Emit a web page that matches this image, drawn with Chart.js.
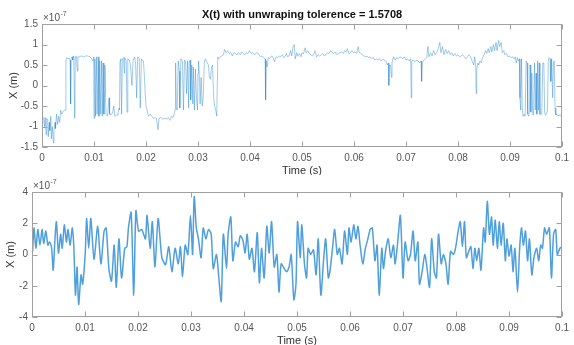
<!DOCTYPE html>
<html>
<head>
<meta charset="utf-8">
<script src="https://cdn.jsdelivr.net/npm/chart.js@4.4.1/dist/chart.umd.min.js"></script>
<style>
  html, body { margin: 0; padding: 0; background: #fff; }
  #wrap { position: relative; width: 574px; height: 345px; overflow: hidden; }
  .pane { position: absolute; left: 0; width: 574px; }
</style>
</head>
<body>
<div id="wrap">
  <div class="pane" style="top:0;height:175px"><canvas id="topChart"></canvas></div>
  <div class="pane" style="top:175px;height:170px"><canvas id="bottomChart"></canvas></div>
</div>
<script>
// === Data (time in ms, displacement in units of 1e-7 m) ===

const xTicks = [0, 0.01, 0.02, 0.03, 0.04, 0.05, 0.06, 0.07, 0.08, 0.09, 0.1];
const yTicksTop = [-1.5, -1, -0.5, 0, 0.5, 1, 1.5];
const yTicksBottom = [-4, -2, 0, 2, 4];

// top panel: unwrapped signal
const tTop = [
  0, 0.1, 0.3, 0.5, 0.6, 0.8, 0.9, 1.1, 1.2, 1.4,
  1.5, 1.7, 1.8, 2.0, 2.2, 2.3, 2.5, 2.6, 2.8, 3.0,
  3.2, 3.4, 3.6, 3.8, 4.0, 4.3, 4.5, 4.6, 4.8, 5.0,
  5.2, 5.4, 5.5, 5.6, 5.8, 5.9, 6.1, 6.3, 6.4, 6.6,
  6.8, 6.9, 7.2, 7.6, 8.0, 8.4, 8.8, 9.2, 9.5, 9.8,
  9.95, 10.0, 10.15, 10.3, 10.45, 10.6, 10.8, 10.95, 11.1, 11.3,
  11.45, 11.6, 11.75, 11.9, 12.0, 12.1, 12.3, 12.6, 12.9, 13.0,
  13.3, 13.6, 13.8, 14.0, 14.3, 14.6, 14.8, 14.9, 15.0, 15.15,
  15.3, 15.45, 15.7, 15.8, 15.9, 16.2, 16.35, 16.5, 16.8, 17.0,
  17.3, 17.5, 17.8, 18.0, 18.2, 18.4, 18.7, 18.9, 19.1, 19.3,
  19.5, 19.7, 19.85, 20.0, 20.2, 20.5, 20.8, 21.1, 21.4, 21.7,
  22.0, 22.3, 22.5, 22.8, 23.2, 23.6, 24.0, 24.3, 24.6, 24.9,
  25.2, 25.5, 25.6, 25.7, 25.8, 26.0, 26.2, 26.4, 26.5, 26.7,
  27.0, 27.2, 27.4, 27.6, 27.8, 28.0, 28.2, 28.3, 28.5, 28.6,
  28.8, 29.0, 29.1, 29.3, 29.5, 29.7, 29.9, 30.0, 30.1, 30.3,
  30.4, 30.6, 30.8, 31.0, 31.2, 31.4, 31.6, 31.8, 32.0, 32.2,
  32.4, 32.6, 32.8, 33.0, 33.2, 33.4, 33.6, 33.8, 34.0, 34.3,
  34.6, 34.9, 35.1, 35.4, 35.7, 36.0, 36.3, 36.6, 36.9, 37.2,
  37.5, 37.8, 38.1, 38.4, 38.7, 39.0, 39.3, 39.6, 39.9, 40.2,
  40.5, 40.8, 41.1, 41.4, 41.7, 42.0, 42.3, 42.6, 42.9, 43.0,
  43.1, 43.3, 43.5, 43.8, 44.1, 44.4, 44.7, 45.0, 45.3, 45.6,
  45.9, 46.2, 46.5, 46.8, 47.0, 47.2, 47.5, 47.8, 48.0, 48.3,
  48.5, 48.7, 49.0, 49.2, 49.5, 49.8, 50.0, 50.3, 50.6, 50.8,
  51.1, 51.4, 51.7, 52.0, 52.3, 52.5, 52.8, 53.1, 53.4, 53.7,
  54.0, 54.3, 54.6, 54.9, 55.2, 55.5, 55.8, 56.1, 56.4, 56.7,
  57.0, 57.3, 57.6, 57.9, 58.2, 58.5, 58.7, 59.0, 59.3, 59.6,
  59.9, 60.2, 60.5, 60.8, 61.0, 61.3, 61.6, 61.9, 62.2, 62.5,
  62.8, 63.1, 63.4, 63.7, 64.0, 64.3, 64.6, 64.9, 65.2, 65.5,
  65.8, 66.1, 66.4, 66.6, 66.7, 66.8, 67.0, 67.2, 67.3, 67.6,
  67.9, 68.2, 68.5, 68.8, 69.1, 69.4, 69.7, 70.0, 70.3, 70.6,
  70.9, 71.0, 71.1, 71.4, 71.7, 72.0, 72.3, 72.6, 72.9, 73.0,
  73.1, 73.4, 73.7, 74.0, 74.2, 74.4, 74.7, 75.0, 75.3, 75.6,
  75.9, 76.2, 76.5, 76.7, 77.0, 77.3, 77.6, 77.9, 78.2, 78.5,
  78.8, 79.1, 79.4, 79.7, 80.0, 80.3, 80.6, 80.9, 81.2, 81.5,
  81.8, 82.1, 82.4, 82.7, 83.0, 83.2, 83.4, 83.5, 83.6, 83.8,
  84.0, 84.2, 84.5, 84.7, 85.0, 85.3, 85.5, 85.8, 86.0, 86.3,
  86.5, 86.8, 87.0, 87.3, 87.5, 87.8, 88.0, 88.3, 88.5, 88.8,
  89.0, 89.3, 89.6, 89.9, 90.2, 90.5, 90.8, 91.0, 91.2, 91.4,
  91.6, 91.8, 91.9, 92.05, 92.2, 92.35, 92.5, 92.7, 92.9, 93.1,
  93.3, 93.4, 93.6, 93.75, 93.85, 94.0, 94.2, 94.35, 94.5, 94.7,
  94.85, 95.0, 95.15, 95.3, 95.45, 95.6, 95.75, 95.9, 96.1, 96.3,
  96.5, 96.65, 96.8, 97.0, 97.2, 97.35, 97.5, 97.7, 97.85, 98.0,
  98.2, 98.35, 98.5, 98.65, 98.8, 99.0, 99.2, 99.4, 99.6, 99.8,
  100
];
const xTop = [
  -0.5, -0.75, -0.8, -1.0, -0.78, -1.2, -0.8, -0.85, -1.25, -0.9,
  -1.1, -0.75, -1.3, -1.0, -1.4, -1.1, -0.9, -1.05, -0.7, -0.95,
  -0.75, -0.9, -0.6, -0.7, -0.65, -0.6, -0.6, 0.62, 0.68, 0.65,
  0.67, 0.62, -0.45, 0.65, 0.7, 0.62, 0.72, -0.8, 0.7, 0.72,
  0.35, 0.7, 0.7, 0.72, 0.7, 0.72, 0.72, 0.7, 0.66, 0.6,
  0.7, -0.8, 0.65, -0.75, 0.7, -0.7, 0.7, -0.75, 0.6, -0.7,
  0.6, -0.75, 0.55, -0.7, -0.2, 0.5, -0.7, -0.75, -0.3, -0.7,
  -0.72, -0.65, -0.5, -0.75, -0.72, -0.72, -0.55, -0.6, 0.6, 0.65,
  -0.7, 0.65, 0.68, 0.3, 0.68, 0.6, -0.65, 0.65, 0.62, 0.5,
  0.0, 0.6, 0.7, 0.55, -0.3, 0.7, 0.65, -0.55, 0.65, 0.6,
  0.6, 0.2, -0.2, -0.5, -0.6, -0.75, -0.7, -0.75, -0.8, -0.78,
  -0.8, -1.08, -0.8, -0.78, -0.82, -0.8, -0.82, -0.78, -0.85, -0.75,
  -0.78, -0.65, -0.58, 0.55, -0.55, -0.6, 0.6, 0.35, -0.55, 0.65,
  0.6, -0.6, 0.62, 0.6, -0.2, 0.6, -0.55, 0.55, 0.62, -0.35,
  0.5, -0.45, 0.45, -0.6, 0.4, -0.3, -0.6, 0.3, 0.6, 0.1,
  -0.45, 0.2, -0.5, -0.3, 0.55, 0.65, 0.6, 0.55, 0.5, 0.2,
  0.15, 0.45, 0.5, -0.3, -0.5, -0.6, -0.75, 0.7, 0.65, 0.7,
  0.72, 0.75, 0.88, 0.8, 0.85, 0.78, 0.8, 0.72, 0.8, 0.78,
  0.75, 0.8, 0.75, 0.82, 0.78, 0.75, 0.8, 0.78, 0.85, 0.78,
  0.8, 0.75, 0.78, 0.8, 0.75, 0.7, 0.72, 0.68, 0.65, -0.35,
  0.6, 0.45, 0.68, 0.65, 0.72, 0.7, 0.58, 0.7, 0.68, 0.72,
  0.7, 0.75, 0.68, 0.72, 0.78, 0.7, 0.72, 0.85, 0.72, 0.95,
  1.0, 0.65, 0.8, 0.72, 0.78, 0.7, 0.8, 0.78, 0.92, 0.8,
  0.85, 0.78, 0.75, 0.72, 0.78, 0.85, 0.7, 0.75, 0.72, 0.75,
  0.78, 0.72, 0.75, 0.8, 0.78, 0.85, 0.8, 0.78, 0.82, 0.75,
  0.78, 0.8, 0.82, 0.78, 0.85, 0.82, 0.9, 0.78, 0.8, 0.85,
  0.8, 0.82, 0.78, 0.95, 0.8, 0.78, 0.75, 0.72, 0.7, 0.72,
  0.68, 0.7, 0.65, 0.68, 0.62, 0.65, 0.62, 0.65, 0.6, 0.64,
  0.62, 0.6, 0.5, 0.55, 0.0, 0.5, 0.5, 0.2, 0.55, 0.7,
  0.62, 0.68, 0.65, 0.7, 0.68, 0.65, 0.7, 0.62, 0.65, 0.6,
  0.65, -0.3, 0.6, 0.62, 0.58, 0.62, 0.6, 0.55, 0.6, 0.1,
  0.55, 0.62, 0.65, 0.68, 0.95, 0.7, 0.8, 0.72, 0.85, 0.75,
  0.8, 0.9, 1.05, 0.8, 0.95, 0.75, 0.88, 0.78, 0.85, 0.75,
  0.8, 0.72, 0.78, 0.72, 0.75, 0.7, 0.72, 0.75, 0.7, 0.65,
  0.7, 0.75, 0.7, 0.6, 0.5, 0.7, 0.45, -0.2, 0.4, 0.55,
  0.5, 0.6, 0.55, 0.68, 0.75, 0.85, 0.78, 0.9, 0.8, 0.95,
  0.82, 1.0, 0.85, 1.05, 0.85, 1.1, 0.95, 1.05, 0.8, 0.85,
  0.75, 0.78, 0.7, 0.72, 0.68, 0.7, 0.65, 0.7, 0.55, 0.68,
  0.6, 0.65, -0.3, -0.6, 0.65, -0.55, -0.75, -0.7, -0.75, 0.6,
  0.55, -0.7, -0.75, -0.6, 0.5, -0.65, 0.3, -0.7, -0.72, 0.55,
  -0.6, 0.3, -0.7, 0.6, -0.6, 0.55, -0.7, -0.72, -0.7, 0.55,
  0.55, -0.65, -0.72, -0.7, -0.6, 0.6, 0.68, 0.65, 0.1, 0.65,
  -0.3, 0.55, 0.6, -0.55, -0.72, -0.7, -0.75, -0.72, -0.72, -0.75,
  -0.78
];

// bottom panel: raw displacement
const tBottom = [
  0, 0.1, 0.37, 0.74, 1.1, 1.5, 1.9, 2.2, 2.6, 3.0,
  3.3, 3.7, 4.0, 4.3, 4.6, 5.0, 5.4, 5.7, 6.1, 6.5,
  6.8, 7.2, 7.6, 7.9, 8.2, 8.5, 8.8, 9.25, 9.56, 10.06,
  10.3, 10.7, 11.1, 11.7, 12.4, 13.0, 13.6, 14.0, 14.5, 15.0,
  15.5, 15.9, 16.4, 16.9, 17.5, 17.9, 18.2, 18.7, 19.2, 19.6,
  20.1, 20.7, 21.4, 21.7, 22.3, 22.7, 23.2, 23.8, 24.5, 25.2,
  25.8, 26.4, 27.0, 27.6, 28.0, 28.4, 28.9, 29.4, 29.9, 30.3,
  30.6, 31.0, 31.4, 31.9, 32.3, 32.8, 33.3, 33.8, 34.2, 34.8,
  35.2, 35.7, 36.1, 36.7, 37.0, 37.5, 37.9, 38.4, 38.9, 39.3,
  39.8, 40.2, 40.6, 41.0, 41.5, 41.96, 42.5, 42.9, 43.3, 43.8,
  44.3, 44.75, 45.2, 45.7, 46.2, 46.6, 47.0, 47.6, 48.0, 48.5,
  48.9, 49.4, 49.8, 50.1, 50.6, 50.9, 51.4, 51.8, 52.1, 52.6,
  53.1, 53.6, 54.0, 54.5, 55.0, 55.4, 55.9, 56.2, 56.7, 57.1,
  57.6, 58.0, 58.5, 58.97, 59.5, 59.8, 60.2, 60.7, 61.1, 61.5,
  61.9, 62.4, 62.9, 63.3, 63.8, 64.2, 64.7, 65.1, 65.5, 66.0,
  66.3, 66.7, 67.2, 67.7, 68.2, 68.5, 69.0, 69.5, 70.0, 70.4,
  70.95, 71.4, 71.9, 72.3, 72.8, 73.1, 73.6, 74.1, 74.5, 75.0,
  75.4, 75.9, 76.3, 76.7, 77.2, 77.6, 78.1, 78.5, 78.96, 79.5,
  79.9, 80.4, 80.8, 81.2, 81.6, 81.94, 82.4, 82.8, 83.2, 83.55,
  83.9, 84.3, 84.7, 85.2, 85.5, 85.9, 86.3, 86.7, 87.0, 87.4,
  87.8, 88.15, 88.5, 88.9, 89.3, 89.6, 90.0, 90.4, 90.75, 91.1,
  91.6, 92.0, 92.35, 92.7, 93.1, 93.5, 93.85, 94.3, 94.7, 95.2,
  95.6, 95.97, 96.3, 96.7, 97.1, 97.6, 98.0, 98.4, 98.8, 99.1,
  99.6, 100
];
const xBottom = [
  1.0, 0.2, 1.7, 0.4, 1.6, 0.6, 1.6, 0.7, 1.5, 0.6,
  0.8, 0.4, -1.0, 0.8, 2.1, 0.1, 1.3, 0.4, 1.9, 0.8,
  1.6, 0.6, 1.7, 0.4, -2.6, -0.8, -3.2, -1.3, -1.9, 0.2,
  2.3, 0.4, 2.3, -0.3, 1.8, -0.6, 1.5, 1.7, -0.9, -1.7,
  0.6, -2.1, 1.0, -1.5, 0.4, 0.5, 1.7, 2.7, -2.6, 2.8,
  1.5, 1.6, 1.0, 2.5, 0.4, 2.1, -0.8, 2.3, -0.2, -0.65,
  0.5, -1.1, 0.4, -0.6, 0.5, -1.4, 0.6, 0, 2.5, 0,
  3.7, 1.7, 1.0, -0.2, 1.7, 1.0, 1.6, 1.3, -0.9, 0,
  -1.3, -3.0, 1.3, -0.9, 1.3, 2.4, -0.4, 0.8, 0.5, 1.2,
  0.9, 0.1, 1.3, -0.3, 0.4, -1.1, 1.4, -1.8, 0.4, -1.5,
  1.8, 0.1, 2.1, -0.8, 0, -2.4, -0.6, -0.9, -1.1, -0.8,
  0, -2.9, -1.9, 2.1, -0.2, 1.9, -0.6, -1.5, 0.4, 0,
  0.3, -1.3, 1.0, -2.6, -0.4, 1.0, -1.5, -1.1, 0.4, 1.6,
  0, 0.4, -0.6, 1.5, 0, 1.7, 0.8, 1.9, 1.0, 1.8,
  0.6, -0.6, 0.4, 0.9, 1.6, 1.7, -0.4, 0.6, -2.6, 0.4,
  -0.9, 0.2, 1.0, -0.2, 0.6, -0.6, 0.8, 2.5, -1.5, 0.8,
  -0.4, 0, 1.5, -0.4, 0.8, -1.9, -1.1, 0, -0.8, -2.1,
  1.0, -1.1, -1.5, 1.3, -0.6, 0, -0.6, -1.9, 0.2, 0,
  0.4, 1.5, 2.1, 0.5, 2.1, -0.2, 0.2, 0.5, -0.9, 0.4,
  -0.4, 0.4, -1.0, 1.7, 0.8, 3.4, 1.3, 2.4, 0.6, 2.2,
  0.4, 2.1, 0.6, 2.0, -0.4, 1.0, -0.1, 0.6, -1.1, 0.4,
  -2.4, 0.4, 1.7, 0.6, 1.5, -0.4, 1.0, -1.3, -0.2, 0.4,
  -0.4, 0.6, 0.4, 1.7, 1.3, 1.7, -1.5, 1.3, 1.6, 0,
  0.4, 0.5
];

// === MATLAB-style axes box, inward ticks and annotations ===

const FONT = "'Liberation Sans', Arial, Helvetica, sans-serif";

const matlabAxes = {
  id: "matlabAxes",
  afterDraw(chart, args, opts) {
    const { ctx, chartArea: a, scales } = chart;
    const L = Math.round(a.left) + 0.5, R = Math.round(a.right) - 0.5;
    const T = Math.round(a.top) + 0.5, B = Math.round(a.bottom) - 0.5;
    const tl = 5;
    ctx.save();
    ctx.strokeStyle = "#a0a0a0";
    ctx.lineWidth = 1;
    ctx.strokeRect(L, T, R - L, B - T);

    ctx.beginPath();
    scales.x.ticks.forEach((tk) => {
      const px = Math.round(scales.x.getPixelForValue(tk.value)) + 0.5;
      ctx.moveTo(px, B); ctx.lineTo(px, B - tl);
      ctx.moveTo(px, T); ctx.lineTo(px, T + tl);
    });
    scales.y.ticks.forEach((tk) => {
      const py = Math.round(scales.y.getPixelForValue(tk.value)) + 0.5;
      ctx.moveTo(L, py); ctx.lineTo(L + tl, py);
      ctx.moveTo(R, py); ctx.lineTo(R - tl, py);
    });
    ctx.stroke();

    ctx.fillStyle = "#555";
    // exponent label
    ctx.font = `10px ${FONT}`;
    ctx.textAlign = "left";
    ctx.textBaseline = "alphabetic";
    const ex = a.left + 1, ey = a.top - 3;
    ctx.fillText("\u00d710", ex, ey);
    const w = ctx.measureText("\u00d710").width;
    ctx.font = `7px ${FONT}`;
    ctx.fillText("-7", ex + w + 0.5, ey - 5);

    // axis titles
    ctx.font = `11px ${FONT}`;
    ctx.fillStyle = "#333";
    ctx.textAlign = "center";
    ctx.textBaseline = "middle";
    ctx.fillText("Time (s)", (a.left + a.right) / 2, opts.xTitleY);
    ctx.save();
    ctx.translate(opts.yTitleX, (a.top + a.bottom) / 2);
    ctx.rotate(-Math.PI / 2);
    ctx.fillText("X (m)", 0, 0);
    ctx.restore();

    if (opts.title) {
      ctx.font = `bold 11px ${FONT}`;
      ctx.fillStyle = "#111";
      ctx.fillText(opts.title, (a.left + a.right) / 2, opts.titleY);
    }
    ctx.restore();
  },
};

function makeChart(id, tMs, values, cfg) {
  const points = tMs.map((ms, i) => ({ x: ms / 1000, y: values[i] }));
  return new Chart(document.getElementById(id), {
    type: "line",
    data: {
      datasets: [{
        data: points,
        borderColor: cfg.color,
        borderWidth: cfg.lineWidth,
        pointRadius: 0,
        tension: cfg.tension,
        fill: false,
      }],
    },
    options: {
      responsive: true,
      maintainAspectRatio: false,
      animation: false,
      layout: { padding: cfg.padding },
      plugins: {
        legend: { display: false },
        tooltip: { enabled: false },
        matlabAxes: cfg.annot,
      },
      scales: {
        x: {
          type: "linear",
          min: xTicks[0],
          max: xTicks[xTicks.length - 1],
          afterBuildTicks: (s) => { s.ticks = xTicks.map((v) => ({ value: v })); },
          grid: { display: false, drawTicks: false },
          border: { display: false },
          ticks: {
            padding: 5, color: "#555", maxRotation: 0, autoSkip: false,
            font: { family: FONT, size: 10 },
            callback: (v) => String(+v.toFixed(2)),
          },
          afterFit: (s) => { s.height = cfg.xHeight; },
        },
        y: {
          min: cfg.yTicks[0],
          max: cfg.yTicks[cfg.yTicks.length - 1],
          afterBuildTicks: (s) => { s.ticks = cfg.yTicks.map((v) => ({ value: v })); },
          grid: { display: false, drawTicks: false },
          border: { display: false },
          ticks: {
            padding: 4, color: "#555",
            font: { family: FONT, size: 10 },
            callback: (v) => String(+v.toFixed(1)),
          },
          afterFit: (s) => { s.width = cfg.yWidth; },
        },
      },
    },
    plugins: [matlabAxes],
  });
}

makeChart("topChart", tTop, xTop, {
  color: "rgba(30,130,205,0.6)",
  lineWidth: 0.7,
  tension: 0,
  padding: { top: 24, right: 6, left: 0, bottom: 0 },
  yWidth: 42,
  xHeight: 28,
  yTicks: yTicksTop,
  annot: { title: "X(t) with unwraping tolerence = 1.5708", titleY: 15, xTitleY: 171, yTitleX: 14 },
});

makeChart("bottomChart", tBottom, xBottom, {
  color: "rgba(35,135,210,0.8)",
  lineWidth: 1.5,
  tension: 0.25,
  padding: { top: 17, right: 5, left: 0, bottom: 0 },
  yWidth: 32,
  xHeight: 28,
  yTicks: yTicksBottom,
  annot: { title: "", titleY: 0, xTitleY: 166, yTitleX: 11 },
});
</script>
</body>
</html>
